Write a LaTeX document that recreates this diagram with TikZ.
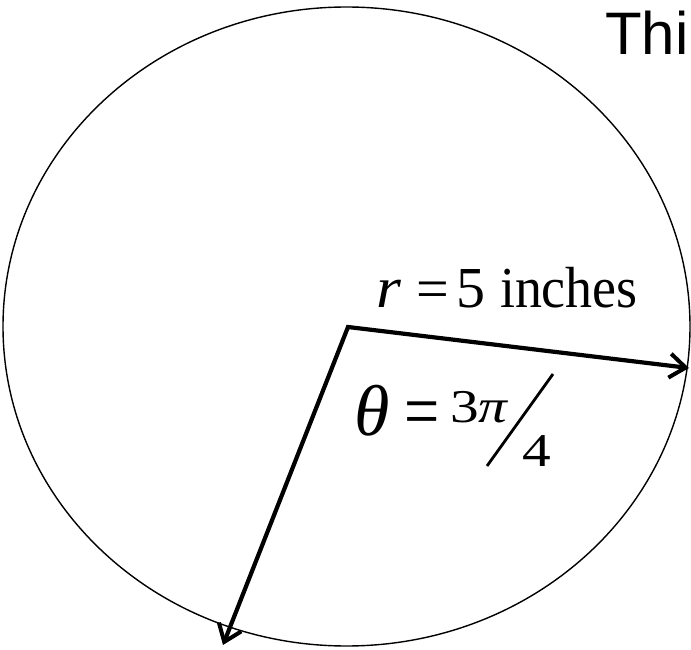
\documentclass[tikz,border=0pt]{standalone}
\usepackage{fontspec}
\setmainfont{Liberation Serif}
\newfontfamily\sansfnt{Liberation Sans}
\usetikzlibrary{arrows.meta,shapes.geometric}
\begin{document}
\begin{tikzpicture}[x=1pt,y=1pt,
  lbl/.style={inner sep=0pt, outer sep=0pt, anchor=base west},
  big/.style={font=\fontsize{58}{64}\selectfont},
  frac/.style={font=\fontsize{47}{52}\selectfont},
  vec/.style={line width=4.2pt, line join=miter,
    {Straight Barb[length=16pt,width=24pt,line width=4pt]}-{Straight Barb[length=16pt,width=24pt,line width=4pt]}}]
\useasboundingbox (0,0) rectangle (691,649);
% circle (drawn as ellipse to match proportions)
\node[ellipse, draw, line width=1.4pt, minimum width=687pt, minimum height=639pt, inner sep=0pt] (circ) at (346.5,322.5) {};
% radius vectors
\coordinate (O) at (348,322);
\coordinate (A) at (689,281);
\coordinate (B) at (223,4);
\draw[vec] (A) -- (O) -- (B);
% r = 5 inches
\node[lbl, big] (rr) at (376,341) {\scalebox{1.1}[1]{\textit{r}}};
\node[inner sep=0pt, big] (req) at (433,354) {=};
\node[lbl, big] (r5) at (456,341) {5};
\node[lbl, big] (rin) at (500,341) {\scalebox{0.93}[1]{inches}};
% theta = 3pi/4
\node[lbl, font=\fontsize{72}{80}\selectfont\itshape] (th) at (354,214) {θ};
\node[inner sep=0pt, font=\fontsize{78}{80}\selectfont] (eq) at (422,229) {\scalebox{0.8}[1]{=}};
\node[lbl, frac] (num) at (450,227) {\scalebox{1.22}[1]{3\textit{π}}};
\coordinate (s1) at (487,183);
\coordinate (s2) at (553,275);
\draw[line width=2.8pt] (s1) -- (s2);
\node[lbl, frac] (den) at (522,183) {\scalebox{1.22}[1]{4}};
\node[lbl, font=\sansfnt\fontsize{60}{70}\selectfont] (ttl) at (605,594) {Thi};
\end{tikzpicture}
\end{document}
